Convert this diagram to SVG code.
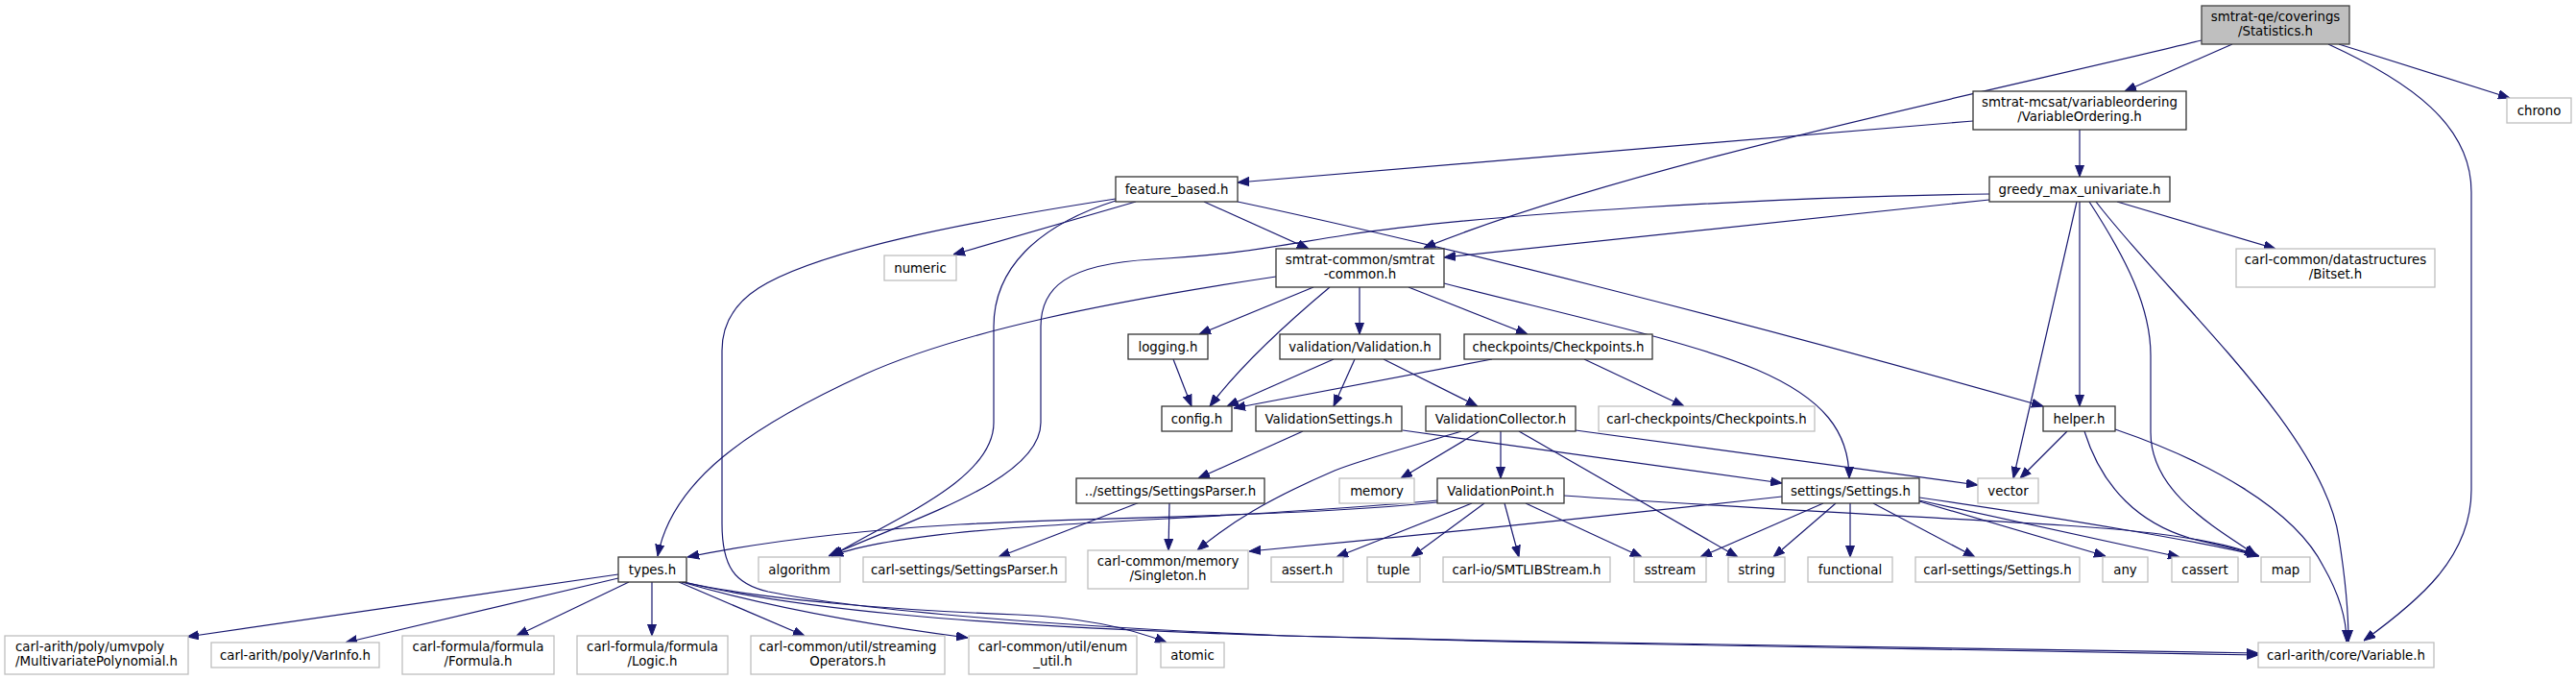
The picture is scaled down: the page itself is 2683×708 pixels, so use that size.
<svg xmlns="http://www.w3.org/2000/svg" width="2683" height="708" viewBox="0 0 2683 708">
<style>
.node rect{fill:#ffffff;stroke:#333333;stroke-width:1.3}
.ext rect{fill:#ffffff;stroke:#bfbfbf;stroke-width:1.3}
.root rect{fill:#bfbfbf;stroke:#404040;stroke-width:1.3}
text{font-family:"DejaVu Sans","Liberation Sans",sans-serif;font-size:13.33px;fill:#000000;text-anchor:middle}
.edges path{fill:none;stroke:#191970;stroke-width:1.2;marker-end:url(#arr)}
</style>
<defs>
<marker id="arr" markerWidth="12" markerHeight="10" refX="12" refY="5" orient="auto" markerUnits="userSpaceOnUse"><path d="M0,0.5 L12,5 L0,9.5 z" fill="#191970" stroke="#191970" stroke-width="1"/></marker>
</defs>
<rect x="0" y="0" width="2683" height="708" fill="#ffffff"/>
<g class="edges" id="edges">
<path d="M2325,46 L2213,95"/>
<path d="M2436,46 L2614,102"/>
<path d="M2425,46 C2510,85 2574,130 2574,200 L2574,510 C2574,580 2520,625 2462,667"/>
<path d="M2293,42 C2100,90 1700,170 1483,258"/>
<path d="M2055,126 L1289,190"/>
<path d="M2166,135 L2166,184"/>
<path d="M2072,208 L1504,268"/>
<path d="M2072,202 C1850,205 1550,222 1400,245 C1330,256 1290,265 1200,270 C1110,275 1084,300 1084,340 L1084,440 C1084,500 950,540 863,579"/>
<path d="M2166,210 L2166,423"/>
<path d="M2163,210 L2097,498"/>
<path d="M2176,210 C2215,270 2240,320 2240,370 L2240,450 C2240,510 2300,545 2350,578"/>
<path d="M2183,210 C2260,310 2420,450 2436,560 C2444,610 2446,640 2446,668"/>
<path d="M2205,210 L2370,259"/>
<path d="M1183,210 L993,265"/>
<path d="M1162,209 C1080,235 1035,280 1035,340 L1035,440 C1035,500 930,540 866,579"/>
<path d="M1254,210 L1363,259"/>
<path d="M1289,210 C1500,255 1800,330 2128,423"/>
<path d="M1162,207 C1000,232 850,262 790,300 C762,318 752,340 752,365 L752,545 C752,590 765,608 800,616 C900,636 1100,652 1340,662 C1700,672 2100,680 2352,682"/>
<path d="M1368,299 L1249,348"/>
<path d="M1385,299 C1330,345 1285,390 1260,423"/>
<path d="M1416,299 L1416,348"/>
<path d="M1467,299 L1591,348"/>
<path d="M1504,295 C1620,325 1760,355 1830,385 C1900,415 1926,450 1926,498"/>
<path d="M1329,288 C1150,315 1000,345 900,390 C780,445 700,500 685,579"/>
<path d="M1389,374 L1278,423"/>
<path d="M1411,374 L1389,423"/>
<path d="M1441,374 L1539,423"/>
<path d="M1222,374 L1241,423"/>
<path d="M1554,374 L1285,425"/>
<path d="M1650,374 L1754,423"/>
<path d="M1357,449 L1248,498"/>
<path d="M1461,448 L1856,503"/>
<path d="M1563,449 L1563,498"/>
<path d="M1541,449 L1459,498"/>
<path d="M1582,449 L1810,580"/>
<path d="M1641,448 L2060,505"/>
<path d="M1522,449 C1470,465 1420,478 1390,490 C1320,520 1280,545 1247,573"/>
<path d="M1187,523 L1040,580"/>
<path d="M1218,523 L1217,573"/>
<path d="M1497,523 C1350,538 1150,538 1000,546 C880,553 790,565 716,580"/>
<path d="M1497,521 C1350,535 1150,542 1050,550 C960,557 900,566 866,579"/>
<path d="M1533,524 L1392,580"/>
<path d="M1546,524 L1470,580"/>
<path d="M1567,524 L1582,580"/>
<path d="M1589,524 L1710,580"/>
<path d="M1629,516 C1800,528 2000,538 2150,547 C2260,554 2320,565 2352,579"/>
<path d="M1899,524 L1771,580"/>
<path d="M1912,524 L1847,580"/>
<path d="M1927,524 L1927,580"/>
<path d="M1951,524 L2057,580"/>
<path d="M1999,522 L2193,579"/>
<path d="M1999,521 L2270,580"/>
<path d="M1999,518 C2150,540 2300,565 2353,579"/>
<path d="M1856,517 C1650,540 1450,560 1301,574"/>
<path d="M2153,449 L2104,498"/>
<path d="M2171,449 C2190,510 2230,545 2280,560 C2310,568 2335,572 2350,578"/>
<path d="M2203,447 C2300,480 2390,530 2420,590 C2440,625 2444,650 2444,668"/>
<path d="M644,598 L195,663"/>
<path d="M644,602 L360,669"/>
<path d="M655,606 L538,662"/>
<path d="M679,606 L679,662"/>
<path d="M707,606 L838,662"/>
<path d="M710,606 C800,632 900,650 1008,664"/>
<path d="M712,606 C800,626 950,636 1060,640 C1130,643 1180,655 1215,669"/>
<path d="M712,606 C820,632 1000,652 1340,662 C1700,671 2100,678 2352,680"/>
</g>
<g id="n-statistics" class="root"><rect x="2293" y="6" width="154" height="40"/><text x="2370" y="22">smtrat-qe/coverings</text><text x="2370" y="37">/Statistics.h</text></g>
<g id="n-varordering" class="node"><rect x="2055" y="95" width="222" height="40"/><text x="2166" y="111">smtrat-mcsat/variableordering</text><text x="2166" y="126">/VariableOrdering.h</text></g>
<g id="n-chrono" class="ext"><rect x="2611" y="102" width="67" height="26"/><text x="2644.5" y="119.5">chrono</text></g>
<g id="n-greedy" class="node"><rect x="2072" y="184" width="188" height="26"/><text x="2166" y="201.5">greedy_max_univariate.h</text></g>
<g id="n-bitset" class="ext"><rect x="2329" y="259" width="207" height="40"/><text x="2432.5" y="275">carl-common/datastructures</text><text x="2432.5" y="290">/Bitset.h</text></g>
<g id="n-feature" class="node"><rect x="1162" y="184" width="127" height="26"/><text x="1225.5" y="201.5">feature_based.h</text></g>
<g id="n-numeric" class="ext"><rect x="921" y="266" width="75" height="26"/><text x="958.5" y="283.5">numeric</text></g>
<g id="n-smtratcommon" class="node"><rect x="1329" y="259" width="175" height="40"/><text x="1416.5" y="275">smtrat-common/smtrat</text><text x="1416.5" y="290">-common.h</text></g>
<g id="n-logging" class="node"><rect x="1175" y="348" width="83" height="26"/><text x="1216.5" y="365.5">logging.h</text></g>
<g id="n-validation" class="node"><rect x="1333" y="348" width="167" height="26"/><text x="1416.5" y="365.5">validation/Validation.h</text></g>
<g id="n-checkpoints" class="node"><rect x="1525" y="348" width="196" height="26"/><text x="1623" y="365.5">checkpoints/Checkpoints.h</text></g>
<g id="n-helper" class="node"><rect x="2128" y="423" width="75" height="26"/><text x="2165.5" y="440.5">helper.h</text></g>
<g id="n-config" class="node"><rect x="1210" y="423" width="73" height="26"/><text x="1246.5" y="440.5">config.h</text></g>
<g id="n-valsettings" class="node"><rect x="1308" y="423" width="152" height="26"/><text x="1384" y="440.5">ValidationSettings.h</text></g>
<g id="n-valcollector" class="node"><rect x="1485" y="423" width="156" height="26"/><text x="1563" y="440.5">ValidationCollector.h</text></g>
<g id="n-carlcheckpoints" class="ext"><rect x="1665" y="423" width="225" height="26"/><text x="1777.5" y="440.5">carl-checkpoints/Checkpoints.h</text></g>
<g id="n-vector" class="ext"><rect x="2060" y="498" width="63" height="26"/><text x="2091.5" y="515.5">vector</text></g>
<g id="n-settingsparser" class="node"><rect x="1121" y="498" width="196" height="26"/><text x="1219" y="515.5">../settings/SettingsParser.h</text></g>
<g id="n-memory" class="ext"><rect x="1395" y="498" width="78" height="26"/><text x="1434" y="515.5">memory</text></g>
<g id="n-valpoint" class="node"><rect x="1497" y="498" width="132" height="26"/><text x="1563" y="515.5">ValidationPoint.h</text></g>
<g id="n-settings" class="node"><rect x="1856" y="498" width="143" height="26"/><text x="1927.5" y="515.5">settings/Settings.h</text></g>
<g id="n-types" class="node"><rect x="644" y="580" width="71" height="26"/><text x="679.5" y="597.5">types.h</text></g>
<g id="n-algorithm" class="ext"><rect x="790" y="580" width="85" height="26"/><text x="832.5" y="597.5">algorithm</text></g>
<g id="n-carlsettingsparser" class="ext"><rect x="899" y="580" width="211" height="26"/><text x="1004.5" y="597.5">carl-settings/SettingsParser.h</text></g>
<g id="n-singleton" class="ext"><rect x="1133" y="573" width="167" height="40"/><text x="1216.5" y="589">carl-common/memory</text><text x="1216.5" y="604">/Singleton.h</text></g>
<g id="n-assert" class="ext"><rect x="1324" y="580" width="75" height="26"/><text x="1361.5" y="597.5">assert.h</text></g>
<g id="n-tuple" class="ext"><rect x="1424" y="580" width="55" height="26"/><text x="1451.5" y="597.5">tuple</text></g>
<g id="n-smtlib" class="ext"><rect x="1503" y="580" width="174" height="26"/><text x="1590" y="597.5">carl-io/SMTLIBStream.h</text></g>
<g id="n-sstream" class="ext"><rect x="1702" y="580" width="75" height="26"/><text x="1739.5" y="597.5">sstream</text></g>
<g id="n-string" class="ext"><rect x="1800" y="580" width="59" height="26"/><text x="1829.5" y="597.5">string</text></g>
<g id="n-functional" class="ext"><rect x="1883" y="580" width="88" height="26"/><text x="1927" y="597.5">functional</text></g>
<g id="n-carlsettings" class="ext"><rect x="1995" y="580" width="171" height="26"/><text x="2080.5" y="597.5">carl-settings/Settings.h</text></g>
<g id="n-any" class="ext"><rect x="2190" y="580" width="47" height="26"/><text x="2213.5" y="597.5">any</text></g>
<g id="n-cassert" class="ext"><rect x="2262" y="580" width="69" height="26"/><text x="2296.5" y="597.5">cassert</text></g>
<g id="n-map" class="ext"><rect x="2355" y="580" width="51" height="26"/><text x="2380.5" y="597.5">map</text></g>
<g id="n-variable" class="ext"><rect x="2352" y="669" width="183" height="26"/><text x="2443.5" y="686.5">carl-arith/core/Variable.h</text></g>
<g id="n-multipoly" class="ext"><rect x="5" y="662" width="191" height="40"/><text x="16" y="678" style="text-anchor:start">carl-arith/poly/umvpoly</text><text x="16" y="693" style="text-anchor:start">/MultivariatePolynomial.h</text></g>
<g id="n-varinfo" class="ext"><rect x="220" y="669" width="175" height="26"/><text x="307.5" y="686.5">carl-arith/poly/VarInfo.h</text></g>
<g id="n-formula" class="ext"><rect x="419" y="662" width="158" height="40"/><text x="498" y="678">carl-formula/formula</text><text x="498" y="693">/Formula.h</text></g>
<g id="n-logic" class="ext"><rect x="601" y="662" width="157" height="40"/><text x="679.5" y="678">carl-formula/formula</text><text x="679.5" y="693">/Logic.h</text></g>
<g id="n-streaming" class="ext"><rect x="782" y="662" width="202" height="40"/><text x="883" y="678">carl-common/util/streaming</text><text x="883" y="693">Operators.h</text></g>
<g id="n-enumutil" class="ext"><rect x="1009" y="662" width="175" height="40"/><text x="1096.5" y="678">carl-common/util/enum</text><text x="1096.5" y="693">_util.h</text></g>
<g id="n-atomic" class="ext"><rect x="1209" y="669" width="66" height="26"/><text x="1242" y="686.5">atomic</text></g>
</svg>
